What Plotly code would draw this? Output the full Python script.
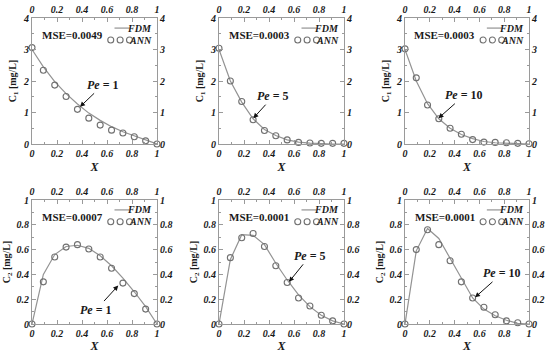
import plotly.graph_objects as go

W, H = 550, 353

X = [0, 0.0909, 0.1818, 0.2727, 0.3636, 0.4545, 0.5455, 0.6364, 0.7273, 0.8182, 0.9091, 1.0]

# C1 panels (top row)
fdm_c1_pe1 = [3.0, 2.45, 1.98, 1.60, 1.27, 0.98, 0.75, 0.55, 0.39, 0.26, 0.13, 0.0]
ann_c1_pe1 = [3.06, 2.34, 1.87, 1.51, 1.10, 0.82, 0.60, 0.44, 0.35, 0.23, 0.10, 0.0]
fdm_c1_pe5 = [3.0, 2.0, 1.33, 0.80, 0.46, 0.27, 0.13, 0.06, 0.03, 0.01, 0.0, 0.0]
ann_c1_pe5 = [3.04, 2.0, 1.35, 0.77, 0.43, 0.26, 0.13, 0.05, 0.03, 0.02, 0.02, 0.02]
fdm_c1_pe10 = [3.0, 2.0, 1.28, 0.80, 0.50, 0.30, 0.17, 0.08, 0.04, 0.02, 0.01, 0.0]
ann_c1_pe10 = [3.02, 2.10, 1.24, 0.80, 0.50, 0.31, 0.14, 0.06, 0.05, 0.04, 0.02, 0.01]

# C2 panels (bottom row)
fdm_c2_pe1 = [0.0, 0.40, 0.56, 0.625, 0.635, 0.61, 0.55, 0.47, 0.37, 0.26, 0.14, 0.0]
ann_c2_pe1 = [0.0, 0.34, 0.54, 0.62, 0.64, 0.605, 0.54, 0.45, 0.33, 0.245, 0.12, 0.0]
fdm_c2_pe5 = [0.0, 0.52, 0.72, 0.715, 0.64, 0.49, 0.355, 0.235, 0.14, 0.07, 0.025, 0.0]
ann_c2_pe5 = [0.0, 0.535, 0.695, 0.73, 0.625, 0.47, 0.335, 0.21, 0.145, 0.07, 0.025, 0.0]
fdm_c2_pe10 = [0.0, 0.59, 0.77, 0.69, 0.53, 0.37, 0.21, 0.12, 0.066, 0.03, 0.005, 0.0]
ann_c2_pe10 = [0.0, 0.60, 0.76, 0.64, 0.51, 0.34, 0.21, 0.135, 0.075, 0.025, 0.01, 0.0]

mse_labels = ["MSE=0.0049", "MSE=0.0003", "MSE=0.0003", "MSE=0.0007", "MSE=0.0001", "MSE=0.0001"]
pe_labels = ["1", "5", "10", "1", "5", "10"]
# arrow tip (data coords) and text offsets (px)
pe_tip = [(0.384, 1.18), (0.275, 0.82), (0.27, 0.82), (0.69, 0.31), (0.56, 0.34), (0.565, 0.215)]
pe_off = [(23, -22), (20, -22), (26, -23), (-22, 24), (21, -26), (27, -24)]

fdm_all = [fdm_c1_pe1, fdm_c1_pe5, fdm_c1_pe10, fdm_c2_pe1, fdm_c2_pe5, fdm_c2_pe10]
ann_all = [ann_c1_pe1, ann_c1_pe5, ann_c1_pe10, ann_c2_pe1, ann_c2_pe5, ann_c2_pe10]

xdom_px = [(32, 157), (219, 344), (405, 529)]
ydom_px = [(18, 144), (200, 324)]

FONT = "Liberation Serif"
AXC = "#9a9a9a"
TXT = "#1a1a1a"
LINEC = "#939393"
MARKC = "#707070"

fig = go.Figure()
layout = dict(width=W, height=H, margin=dict(l=0, r=0, t=0, b=0),
              paper_bgcolor="white", plot_bgcolor="white", showlegend=False)
annotations = []
shapes = []

tickfont = dict(family=FONT, size=10, color=TXT, weight="bold", style="italic")

for i in range(6):
    r, c = divmod(i, 3)
    n = i + 1
    m = i + 7
    xs = "" if n == 1 else str(n)
    xd = [xdom_px[c][0] / W, xdom_px[c][1] / W]
    yd = [1 - ydom_px[r][1] / H, 1 - ydom_px[r][0] / H]
    if r == 0:
        yr, ydt, ymin = [0, 4], 1, 0.5
        ytitle = "<b>C<sub>1</sub> [mg/L]</b>"
    else:
        yr, ydt, ymin = [0, 1], 0.2, 0.1
        ytitle = "<b>C<sub>2</sub> [mg/L]</b>"

    common_x = dict(domain=xd, range=[0, 1], dtick=0.2, tick0=0, showgrid=False, zeroline=False,
                    showline=True, linecolor=AXC, linewidth=1, ticks="inside", ticklen=4,
                    tickcolor=AXC, tickfont=tickfont, automargin=False,
                    minor=dict(ticks="inside", dtick=0.1, ticklen=2, tickcolor=AXC, showgrid=False))
    common_y = dict(domain=yd, range=yr, dtick=ydt, tick0=0, showgrid=False, zeroline=False,
                    showline=True, linecolor=AXC, linewidth=1, ticks="inside", ticklen=4,
                    tickcolor=AXC, tickfont=tickfont, automargin=False,
                    minor=dict(ticks="inside", dtick=ymin, ticklen=2, tickcolor=AXC, showgrid=False))

    layout["xaxis" + xs] = dict(common_x, anchor="y" + xs, side="bottom",
                                title=dict(text="<b><i>X</i></b>", standoff=4,
                                           font=dict(family=FONT, size=12, color=TXT)))
    layout["yaxis" + xs] = dict(common_y, anchor="x" + xs, side="left",
                                title=dict(text=ytitle, standoff=4,
                                           font=dict(family=FONT, size=10, color=TXT)))
    layout["xaxis" + str(m)] = dict(common_x, anchor="y" + str(m), side="top",
                                    overlaying="x" + xs)
    layout["yaxis" + str(m)] = dict(common_y, anchor="x" + str(m), side="right",
                                    overlaying="y" + xs)

    fig.add_trace(go.Scatter(x=X, y=fdm_all[i], mode="lines", name="FDM",
                             line=dict(color=LINEC, width=1.2),
                             xaxis="x" + xs, yaxis="y" + xs, cliponaxis=False))
    fig.add_trace(go.Scatter(x=X, y=ann_all[i], mode="markers", name="ANN",
                             marker=dict(symbol="circle-open", size=6, color=MARKC,
                                         line=dict(width=1.1, color=MARKC)),
                             xaxis="x" + xs, yaxis="y" + xs, cliponaxis=False))
    # invisible trace to activate top/right axes
    fig.add_trace(go.Scatter(x=[0, 1], y=yr, mode="markers", marker=dict(opacity=0),
                             hoverinfo="skip", xaxis="x" + str(m), yaxis="y" + str(m)))

    xdref, ydref = "x" + xs + " domain", "y" + xs + " domain"
    # MSE text
    annotations.append(dict(text="<b>" + mse_labels[i] + "</b>", xref=xdref, yref=ydref,
                            x=0.32, y=0.865, xanchor="center", yanchor="middle", showarrow=False,
                            font=dict(family=FONT, size=11, color=TXT)))
    # legend
    shapes.append(dict(type="line", xref=xdref, yref=ydref, x0=0.66, x1=0.78, y0=0.92, y1=0.92,
                       line=dict(color=LINEC, width=1.2)))
    annotations.append(dict(text="<b><i>FDM</i></b>", xref=xdref, yref=ydref, x=0.975, y=0.92,
                            xanchor="right", yanchor="middle", showarrow=False,
                            font=dict(family=FONT, size=10, color=TXT)))
    for cx in (0.63, 0.705, 0.78):
        shapes.append(dict(type="circle", xref=xdref, yref=ydref, xsizemode="pixel",
                           ysizemode="pixel", xanchor=cx, yanchor=0.825,
                           x0=-3, x1=3, y0=-3, y1=3,
                           line=dict(color=MARKC, width=1.1)))
    annotations.append(dict(text="<b><i>ANN</i></b>", xref=xdref, yref=ydref, x=0.975, y=0.825,
                            xanchor="right", yanchor="middle", showarrow=False,
                            font=dict(family=FONT, size=10, color=TXT)))
    # Pe arrow annotation
    tx, ty = pe_tip[i]
    ax, ay = pe_off[i]
    annotations.append(dict(text="<b><i>Pe</i> = " + pe_labels[i] + "</b>", x=tx, y=ty,
                            xref="x" + xs, yref="y" + xs, ax=ax, ay=ay, showarrow=True,
                            arrowhead=2, arrowsize=1, arrowwidth=1, arrowcolor="#111",
                            font=dict(family=FONT, size=12, color=TXT)))

layout["annotations"] = annotations
layout["shapes"] = shapes
fig.update_layout(**layout)
fig.write_html("out.html", config={"displayModeBar": False},
               post_script="document.body.style.margin='0';document.body.style.overflow='hidden';")
